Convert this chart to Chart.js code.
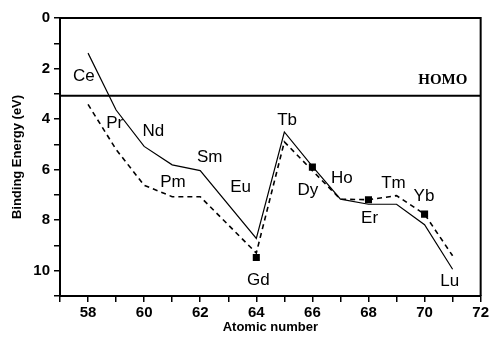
<!DOCTYPE html>
<html>
<head>
<meta charset="utf-8">
<script src="https://cdn.jsdelivr.net/npm/chart.js@4/dist/chart.umd.min.js"></script>
<style>
  body { margin: 0; background: #fff; }
  #wrap { width: 491px; height: 341px; }
</style>
</head>
<body>
<div id="wrap"><canvas id="chart" width="491" height="341"></canvas></div>
<script>
// lanthanides, binding energy of the 4f level
const atomicNumbers = [58, 59, 60, 61, 62, 63, 64, 65, 66, 67, 68, 69, 70, 71];
const elements = ["Ce", "Pr", "Nd", "Pm", "Sm", "Eu", "Gd", "Tb", "Dy", "Ho", "Er", "Tm", "Yb", "Lu"];
const solidEnergy = [1.39, 3.64, 5.08, 5.81, 6.04, null, 8.72, 4.51, 5.87, 7.17, 7.37, 7.37, 8.18, 9.94];
const dashedEnergy = [3.42, 5.2, 6.62, 7.07, 7.07, null, 9.3, 4.9, 6.04, 7.17, 7.19, 7.03, 7.76, 9.41];
const markerNumbers = [64, 66, 68, 70];
const markerEnergy = [9.48, 5.9, 7.19, 7.76];
const homoEnergy = 3.08;
const homoLabel = "HOMO";

// where each element name sits (data units)
const labelX = [57.85, 58.95, 60.33, 61.03, 62.34, 63.44, 64.07, 65.10, 65.84, 67.05, 68.04, 68.89, 69.98, 70.90];
const labelY = [2.30, 4.17, 4.49, 6.51, 5.52, 6.71, 10.37, 4.05, 6.83, 6.35, 7.94, 6.55, 7.07, 10.41];
const homoLabelAt = [70.65, 2.46];

const xMin = 57, xMax = 72, yMin = 0, yMax = 11;

function pairs(xs, ys) {
    return xs.map((x, i) => ({ x: x, y: ys[i] }));
}

const labelsPlugin = {
    id: "labels",
    afterDraw(chart) {
        const ctx = chart.ctx;
        const a = chart.chartArea;
        const xs = chart.scales.x, ys = chart.scales.y;
        ctx.save();
        ctx.strokeStyle = "#000";
        ctx.lineWidth = 2;
        ctx.beginPath();
        ctx.moveTo(a.left, a.top);
        ctx.lineTo(a.right, a.top);
        ctx.lineTo(a.right, a.bottom);
        ctx.stroke();

        ctx.fillStyle = "#000";
        ctx.textAlign = "center";
        ctx.textBaseline = "middle";
        ctx.font = "17px 'Liberation Sans', Arial, sans-serif";
        elements.forEach((el, i) => {
            ctx.fillText(el, xs.getPixelForValue(labelX[i]), ys.getPixelForValue(labelY[i]));
        });
        ctx.font = "bold 15px 'Liberation Serif', 'Times New Roman', serif";
        ctx.fillText(homoLabel, xs.getPixelForValue(homoLabelAt[0]), ys.getPixelForValue(homoLabelAt[1]));
        ctx.restore();
    }
};

const tickFont = { family: "'Liberation Sans', Arial, sans-serif", size: 15, weight: "bold" };
const titleFont = { family: "'Liberation Sans', Arial, sans-serif", size: 13, weight: "bold" };

new Chart(document.getElementById("chart"), {
    type: "line",
    data: {
        datasets: [
            {
                data: pairs(atomicNumbers, solidEnergy),
                borderColor: "#000",
                borderWidth: 1.2,
                pointRadius: 0,
                spanGaps: true,
                tension: 0
            },
            {
                data: pairs(atomicNumbers, dashedEnergy),
                borderColor: "#000",
                borderWidth: 1.6,
                borderDash: [5, 4],
                pointRadius: 0,
                spanGaps: true,
                tension: 0
            },
            {
                data: pairs(markerNumbers, markerEnergy),
                showLine: false,
                pointStyle: "rect",
                pointRadius: 5,
                pointBackgroundColor: "#000",
                pointBorderWidth: 0
            },
            {
                data: [{ x: xMin, y: homoEnergy }, { x: xMax, y: homoEnergy }],
                borderColor: "#000",
                borderWidth: 2,
                pointRadius: 0
            }
        ]
    },
    options: {
        responsive: false,
        animation: false,
        layout: { padding: { top: 18, right: 7, left: 0, bottom: 0 } },
        plugins: {
            legend: { display: false },
            tooltip: { enabled: false }
        },
        scales: {
            x: {
                type: "linear",
                min: xMin,
                max: xMax,
                afterFit: s => { s.height = 45; },
                border: { color: "#000", width: 2 },
                grid: { drawOnChartArea: false, drawTicks: true, tickLength: 6, color: "#000", lineWidth: 1.5 },
                ticks: {
                    stepSize: 1,
                    autoSkip: false,
                    maxRotation: 0,
                    color: "#000",
                    font: tickFont,
                    padding: 2,
                    callback: v => (v % 2 === 0 ? v : "")
                },
                title: { display: true, text: "Atomic number", color: "#000", font: titleFont, padding: { top: 2, bottom: 6 } }
            },
            y: {
                reverse: true,
                min: yMin,
                max: yMax,
                afterFit: s => { s.width = 60; },
                border: { color: "#000", width: 2 },
                grid: { drawOnChartArea: false, drawTicks: true, tickLength: 6, color: "#000", lineWidth: 1.5 },
                ticks: {
                    stepSize: 1,
                    autoSkip: false,
                    color: "#000",
                    font: tickFont,
                    padding: 4,
                    callback: v => (v % 2 === 0 ? v : "")
                },
                title: { display: true, text: "Binding Energy (eV)", color: "#000", font: titleFont, padding: { top: 10, bottom: 4 } }
            }
        }
    },
    plugins: [labelsPlugin]
});
</script>
</body>
</html>
